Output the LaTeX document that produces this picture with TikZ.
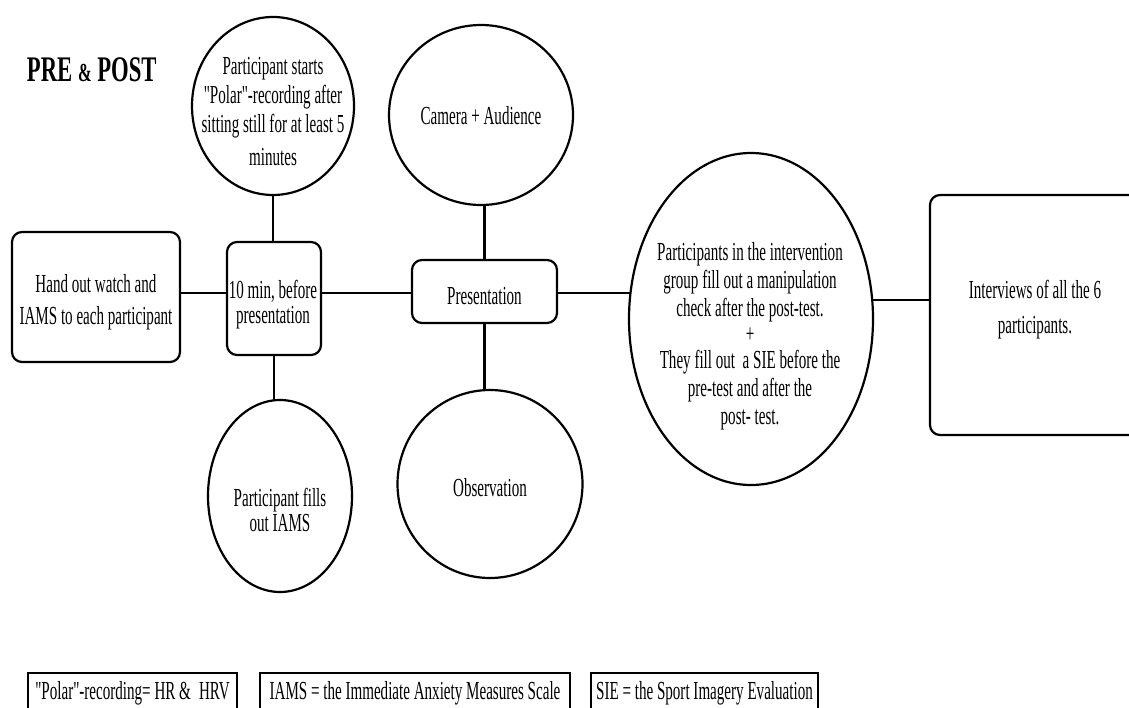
\documentclass[tikz,border=0pt]{standalone}
\usepackage{fontspec}
\setmainfont[FakeStretch=0.58, Ligatures=TeXOff]{Liberation Serif}
\newfontfamily\titlefont[FakeStretch=0.63, Ligatures=TeXOff]{Liberation Serif}
\usetikzlibrary{shapes.geometric,backgrounds}
\begin{document}
\begin{tikzpicture}[x=1pt,y=-1pt,
  every node/.style={inner sep=0pt, outer sep=0pt},
  txt/.style={font=\fontsize{26}{#1}\selectfont, align=center},
  txt/.default=28,
  bubble/.style={ellipse, draw, line width=2.2pt, fill=white},
  rbox/.style={rectangle, rounded corners=10pt, draw, line width=2.2pt, fill=white},
  legendbox/.style={rectangle, draw, line width=2.4pt, fill=white, anchor=north west, minimum height=54pt},
  legendtxt/.style={font=\fontsize{26}{30}\selectfont},
  link/.style={line width=2.2pt}]
\useasboundingbox (0,0) rectangle (1129,708);
\clip (0,0) rectangle (1129,708);

% title
\node[font=\titlefont\fontsize{36}{40}\selectfont\bfseries, anchor=base west] (title) at (27,82)
  {PRE {\fontsize{26}{30}\selectfont\&} POST};

% shapes
\node[bubble, minimum width=162pt, minimum height=178pt] (A) at (273,106) {};
\node[bubble, minimum width=184pt, minimum height=180pt] (B) at (481,115) {};
\node[bubble, minimum width=144pt, minimum height=192pt] (C) at (280,496) {};
\node[bubble, minimum width=185pt, minimum height=188pt] (O) at (490,484) {};
\node[bubble, minimum width=244pt, minimum height=332pt] (Big) at (751,319) {};
\node[rbox, minimum width=168pt, minimum height=130pt] (H) at (96,297) {};
\node[rbox, minimum width=94pt, minimum height=113pt] (T) at (274,298.5) {};
\node[rbox, minimum width=145pt, minimum height=63pt] (P) at (484.5,291.5) {};
\node[rbox, minimum width=212pt, minimum height=240pt] (I) at (1036,315) {};

% texts
\node[txt=29] (At) at (273,111.5)
  {Participant starts\\"Polar"-recording after\\sitting still for at least 5\\[4pt]minutes};
\node[txt] (Bt) at (481,116) {Camera + Audience};
\node[txt=25] (Ct) at (280,509.5) {Participant fills\\out IAMS};
\node[txt=28] (Ot) at (490,488) {Observation};
\node[txt=28] (Bigt) at (750,336)
  {Participants in the intervention\\group fill out a manipulation\\check after the post-test.\\[-2pt]+\\[-2pt]They fill out\ \ a SIE before the\\pre-test and after the\\post- test.};
\node[txt=32] (Ht) at (96,302) {Hand out watch and\\IAMS to each participant};
\node[txt=25] (Tt) at (273,304.5) {10 min, before\\presentation};
\node[txt] (Pt) at (484.5,296) {Presentation};
\node[txt=35] (It) at (1035,309.5) {Interviews of all the 6\\participants.};

% legend
\node[legendbox, minimum width=209pt] (L1) at (28,673) {};
\node[legendbox, minimum width=310pt] (L2) at (260,673) {};
\node[legendbox, minimum width=227pt] (L3) at (591,673) {};
\node[legendtxt] (L1t) at (132.5,693) {"Polar"-recording= HR \& \,HRV};
\node[legendtxt] (L2t) at (415,693) {IAMS = the Immediate Anxiety Measures Scale};
\node[legendtxt] (L3t) at (704.5,693) {SIE = the Sport Imagery Evaluation};

\coordinate (axis) at (0,293);
\coordinate (axisb) at (0,300);

\begin{scope}[on background layer]
\fill[white] (0,0) rectangle (1129,708);
\draw[link] (H.center |- axis) -- (T.center |- axis);
\draw[link] (T.center |- axis) -- (P.center |- axis);
\draw[link] (P.center |- axis) -- (Big.center |- axis);
\draw[link] (Big.center |- axisb) -- (I.center |- axisb);
\draw[link] (A.center) -- (A.center |- T.center);
\draw[link] (T.center) -- (T.center |- C.center);
\draw[link] (P.center |- B.center) -- (P.center);
\draw[link] (P.center) -- (P.center |- O.center);
\end{scope}
\end{tikzpicture}
\end{document}
